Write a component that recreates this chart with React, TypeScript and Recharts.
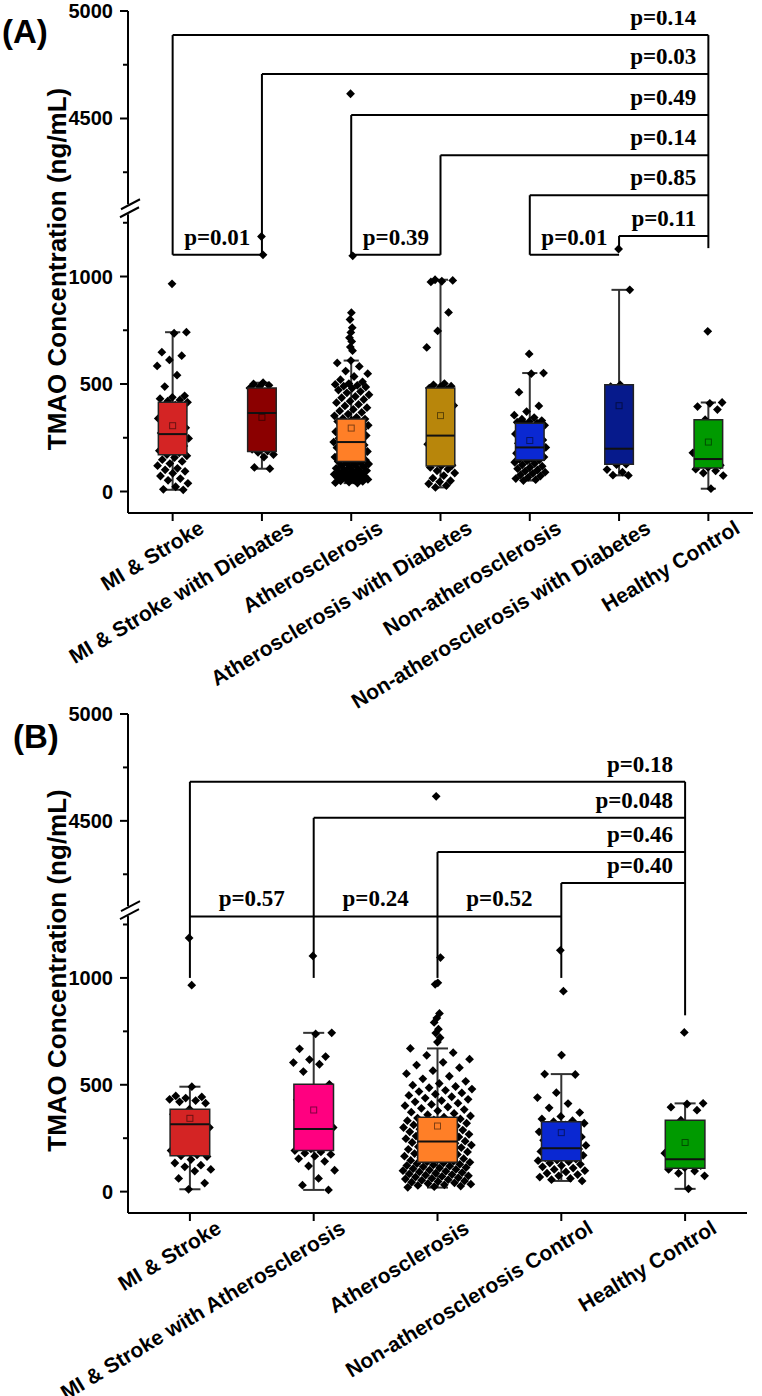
import React from 'react';
import { ComposedChart, XAxis, YAxis, Scatter, ReferenceArea, ReferenceLine, ReferenceDot, Label } from 'recharts';

// ---------- broken axis transform ----------
const LOWER_MAX = 1300;
const UPPER_MIN = 4100;
const SHIFT = 2765;
const toT = (v: number) => (v >= UPPER_MIN ? v - SHIFT : v);
const BREAK_T = (LOWER_MAX + toT(UPPER_MIN)) / 2;
const yMajor = [0, 500, 1000, 4500, 5000];
const yMinor = [250, 750, 1250, 4250, 4750];
const fromT = (t: number) => (t > LOWER_MAX ? t + SHIFT : t);

// ---------- Panel A data ----------
const catsA = ['MI & Stroke', 'MI & Stroke with Diebates', 'Atherosclerosis', 'Atherosclerosis with Diabetes', 'Non-atherosclerosis', 'Non-atherosclerosis with Diabetes', 'Healthy Control'];
const q1A = [171, 186, 140, 119, 147, 127, 109];
const medA = [267, 365, 230, 260, 205, 199, 151];
const q3A = [415, 481, 337, 481, 318, 496, 334];
const meanA = [306, 345, 295, 353, 237, 399, 230];
const wLoA = [8, 106, 39, 19, 51, 75, 13];
const wHiA = [741, 506, 609, 985, 551, 938, 414];

const msA = [966, 741, 736, 648, 632, 612, 584, 541, 488, 445, 438, 432, 426, 420, 415, 402, 388, 372, 355, 340, 322, 308, 296, 284, 272, 266, 258, 247, 236, 224, 212, 200, 190, 180, 172, 166, 158, 148, 140, 130, 120, 108, 101, 94, 85, 72, 60, 52, 38, 22, 10, 8];
const msdA = [1186, 1101, 506, 500, 494, 488, 481, 430, 365, 300, 248, 196, 188, 182, 172, 160, 112, 106];
const athA = [4615, 1096, 832, 800, 762, 740, 715, 698, 672, 655, 609, 598, 582, 560, 548, 535, 520, 510, 502, 498, 494, 490, 486, 480, 472, 465, 459, 450, 442, 436, 428, 420, 413, 405, 398, 390, 382, 375, 368, 360, 352, 345, 340, 337, 332, 326, 320, 314, 308, 302, 296, 290, 284, 278, 272, 266, 260, 254, 248, 242, 236, 230, 226, 222, 216, 210, 204, 198, 192, 186, 180, 175, 170, 165, 160, 155, 150, 146, 142, 140, 136, 132, 128, 124, 120, 116, 112, 108, 104, 100, 97, 94, 90, 87, 84, 80, 77, 74, 71, 68, 65, 62, 59, 56, 53, 50, 47, 44, 41, 39];
const athdA = [985, 982, 978, 975, 833, 747, 670, 502, 496, 490, 486, 481, 475, 440, 400, 355, 310, 262, 258, 220, 180, 140, 122, 119, 112, 104, 96, 86, 74, 62, 50, 45, 36, 28, 19];
const naA = [640, 551, 548, 462, 398, 372, 355, 344, 336, 330, 326, 322, 318, 314, 308, 300, 292, 284, 276, 268, 260, 250, 240, 232, 224, 216, 210, 205, 200, 196, 190, 184, 178, 172, 166, 160, 154, 150, 147, 142, 136, 130, 124, 118, 112, 106, 100, 95, 90, 84, 78, 72, 66, 60, 55, 51];
const nadA = [1128, 938, 496, 488, 127, 125, 102, 90, 76, 75];
const hcA = [745, 414, 410, 395, 381, 334, 180, 151, 132, 122, 112, 104, 96, 86, 74, 13];

const bracketFromA = [0, 1, 2, 3, 4, 5];
const bracketToA = [6, 6, 6, 6, 6, 6];
const bracketHA = [4888, 4707, 4516, 4329, 4143, 1189];
const bracketPA = ['p=0.14', 'p=0.03', 'p=0.49', 'p=0.14', 'p=0.85', 'p=0.11'];
const legBottomA = [1101, 1101, 1101, 1101, 1101, 1128];
const rightLegBottomA = 1132;
const pairFromA = [0, 2, 4];
const pairToA = [1, 3, 5];
const pairHA = [1101, 1101, 1101];
const pairPA = ['p=0.01', 'p=0.39', 'p=0.01'];

// ---------- Panel B data ----------
const catsB = ['MI & Stroke', 'MI & Stroke with Atherosclerosis', 'Atherosclerosis', 'Non-atherosclerosis Control', 'Healthy Control'];
const q1B = [168, 192, 137, 145, 109];
const medB = [315, 293, 234, 203, 151];
const q3B = [386, 502, 348, 327, 334];
const meanB = [343, 382, 307, 276, 230];
const wLoB = [11, 8, 19, 50, 13];
const wHiB = [491, 743, 670, 550, 413];

const msB = [1187, 966, 491, 448, 443, 438, 432, 426, 420, 414, 386, 362, 340, 318, 300, 282, 262, 240, 214, 192, 172, 168, 164, 150, 134, 124, 116, 104, 96, 62, 40, 11];
const msaB = [1103, 743, 738, 668, 632, 618, 604, 596, 562, 502, 468, 430, 382, 340, 300, 290, 252, 228, 200, 192, 186, 180, 174, 166, 154, 142, 120, 100, 62, 30, 8];
const athB = [4615, 1095, 977, 970, 834, 812, 792, 760, 742, 720, 700, 670, 650, 638, 620, 605, 592, 580, 566, 552, 540, 528, 516, 506, 498, 492, 486, 480, 474, 468, 462, 456, 450, 444, 438, 432, 426, 420, 414, 408, 402, 396, 390, 384, 378, 372, 366, 360, 354, 348, 344, 340, 336, 332, 328, 324, 320, 316, 312, 308, 304, 300, 296, 292, 288, 284, 280, 276, 272, 268, 264, 260, 256, 252, 248, 244, 240, 236, 234, 230, 226, 222, 218, 214, 210, 206, 202, 198, 194, 190, 186, 182, 178, 174, 170, 166, 162, 158, 154, 150, 146, 142, 139, 137, 134, 131, 128, 125, 122, 119, 116, 113, 110, 107, 104, 101, 98, 95, 92, 89, 86, 83, 80, 77, 74, 71, 68, 65, 62, 59, 56, 53, 50, 47, 44, 41, 38, 35, 32, 29, 26, 23, 20];
const nacB = [1129, 938, 639, 550, 548, 463, 440, 412, 392, 370, 352, 340, 332, 327, 320, 312, 304, 296, 288, 280, 272, 264, 256, 248, 240, 232, 224, 216, 210, 204, 200, 194, 188, 182, 176, 170, 164, 158, 152, 148, 145, 140, 134, 128, 122, 116, 110, 104, 98, 92, 86, 80, 74, 68, 62, 56, 50];
const hcB = [745, 413, 410, 395, 381, 334, 180, 151, 132, 122, 112, 104, 96, 86, 74, 13];

const bracketFromB = [0, 1, 2, 3];
const bracketToB = [4, 4, 4, 4];
const bracketHB = [4683, 4514, 4354, 4209];
const bracketPB = ['p=0.18', 'p=0.048', 'p=0.46', 'p=0.40'];
const legBottomB = [1000, 1000, 1000, 1000];
const rightLegBottomB = 825;
const pairFromB = [0, 1, 2];
const pairToB = [1, 2, 3];
const pairHB = [1288, 1288, 1288];
const pairPB = ['p=0.57', 'p=0.24', 'p=0.52'];

// ---------- styles ----------
const colorsA = ['#D42424', '#8B0000', '#FF7F27', '#B8860B', '#0A28D2', '#061A8C', '#009A00'];
const colorsB = ['#D42424', '#FF0080', '#FF7F27', '#0A28D2', '#009A00'];
const SANS = "'Liberation Sans', Arial, sans-serif";
const SERIF = "'Liberation Serif', 'Times New Roman', serif";

const jit = (k: number) => ((k * 0.6180339887 + 0.31) % 1) * 2 - 1;

const Diamond = (p: any) => {
  const { cx, cy } = p;
  if (cx == null || cy == null) return null;
  const r = 4.4;
  return <path d={`M${cx},${cy - r}L${cx + r},${cy}L${cx},${cy + r}L${cx - r},${cy}Z`} fill="#000" />;
};

const MeanSq = (p: any) => {
  const { cx, cy } = p;
  if (cx == null || cy == null) return <g />;
  return <rect x={cx - 3} y={cy - 3} width={6} height={6} fill="none" stroke="rgba(0,0,0,0.5)" strokeWidth={1} />;
};

const PLabel = (p: any) => {
  const { cx, cy, payload } = p;
  if (cx == null || cy == null) return null;
  const end = payload.anchor === 'end';
  return (
    <text x={end ? cx - 12 : cx} y={cy - 10} textAnchor={end ? 'end' : 'middle'} fontFamily={SERIF} fontWeight="bold" fontSize={23} fill="#000">
      {payload.text}
    </text>
  );
};

const YTick = (p: any) => {
  const { x, y, payload } = p;
  const t = payload.value;
  if (Math.abs(t - BREAK_T) < 0.01) {
    return (
      <g>
        <rect x={x - 3} y={y - 4} width={6} height={10} fill="#fff" />
        <line x1={x - 7} y1={y + 1} x2={x + 12} y2={y - 9} stroke="#000" strokeWidth={2} />
        <line x1={x - 8} y1={y + 9} x2={x + 11} y2={y - 1} stroke="#000" strokeWidth={2} />
      </g>
    );
  }
  const v = Math.round(fromT(t));
  const major = yMajor.includes(v);
  return (
    <g>
      <line x1={x - (major ? 8 : 5)} y1={y} x2={x} y2={y} stroke="#000" strokeWidth={2} />
      {major && (
        <text x={x - 15} y={y} textAnchor="end" dominantBaseline="central" fontFamily={SANS} fontWeight="bold" fontSize={20} fill="#000">
          {v}
        </text>
      )}
    </g>
  );
};

const makeXTick = (names: string[]) => (p: any) => {
  const { x, y, payload } = p;
  const tx = x + 33;
  const ty = y + 19;
  return (
    <g>
      <line x1={x} y1={y} x2={x} y2={y + 8} stroke="#000" strokeWidth={2} />
      <text x={tx} y={ty} transform={`rotate(-31 ${tx} ${ty})`} textAnchor="end" fontFamily={SANS} fontWeight="bold" fontSize={21} fill="#000">
        {names[payload.value]}
      </text>
    </g>
  );
};

const YLabelContent = (p: any) => {
  const vb = p.viewBox || { x: 0, y: 0, width: 128, height: 500 };
  const cx = vb.x + 57;
  const cy = vb.y + vb.height / 2 + 7;
  return (
    <text x={cx} y={cy} transform={`rotate(-90 ${cx} ${cy})`} textAnchor="middle" dominantBaseline="central" fontFamily={SANS} fontWeight="bold" fontSize={26} fill="#000">
      TMAO Concentration (ng/mL)
    </text>
  );
};

type PanelProps = {
  cats: string[]; q1: number[]; med: number[]; q3: number[]; mean: number[]; wLo: number[]; wHi: number[];
  points: number[][]; colors: string[];
  bFrom: number[]; bTo: number[]; bH: number[]; bP: string[]; legBottom: number[]; rightLegBottom: number;
  pFrom: number[]; pTo: number[]; pH: number[]; pP: string[];
  height: number; margin: any; xHeight: number; spread: number[];
};

const Panel = (props: PanelProps) => {
  const { cats, q1, med, q3, mean, wLo, wHi, points, colors } = props;
  const n = cats.length;
  const BW = 0.32;
  const CAP = 0.17;
  const scatterData: any[] = [];
  points.forEach((arr, i) => {
    arr.forEach((v, k) => {
      const out = v > wHi[i] || v < wLo[i];
      scatterData.push({ x: i + (out ? 0.1 : 1) * props.spread[i] * jit(k), y: toT(v) });
    });
  });
  const labelData: any[] = [];
  props.bFrom.forEach((f, j) => labelData.push({ x: props.bTo[j], y: toT(props.bH[j]), text: props.bP[j], anchor: 'end' }));
  props.pFrom.forEach((f, j) => labelData.push({ x: (f + props.pTo[j]) / 2, y: toT(props.pH[j]), text: props.pP[j], anchor: 'middle' }));

  const seg = (key: string, x1: number, y1: number, x2: number, y2: number, stroke = '#000', w = 2, z = 300, front = false) => (
    <ReferenceLine key={key} segment={[{ x: x1, y: toT(y1) }, { x: x2, y: toT(y2) }]} stroke={stroke} strokeWidth={w} ifOverflow="visible" zIndex={z} isFront={front} />
  );

  const whiskers: any[] = [];
  const medians: any[] = [];
  cats.forEach((_, i) => {
    whiskers.push(seg(`wh${i}`, i, q3[i], i, wHi[i], '#333', 2, 50));
    whiskers.push(seg(`wl${i}`, i, wLo[i], i, q1[i], '#333', 2, 50));
    whiskers.push(seg(`ch${i}`, i - CAP / 2, wHi[i], i + CAP / 2, wHi[i], '#333', 2, 50));
    whiskers.push(seg(`cl${i}`, i - CAP / 2, wLo[i], i + CAP / 2, wLo[i], '#333', 2, 50));
    medians.push(seg(`md${i}`, i - BW / 2, med[i], i + BW / 2, med[i], '#111', 2, 1500, true));
  });
  const brackets: any[] = [];
  props.bFrom.forEach((f, j) => {
    brackets.push(seg(`bh${j}`, f, props.bH[j], props.bTo[j], props.bH[j]));
    brackets.push(seg(`bl${j}`, f, props.bH[j], f, props.legBottom[j]));
  });
  const topH = Math.max(...props.bH);
  const rightCat = props.bTo[0];
  brackets.push(seg('rleg', rightCat, topH, rightCat, props.rightLegBottom));
  props.pFrom.forEach((f, j) => {
    brackets.push(seg(`ph${j}`, f, props.pH[j], props.pTo[j], props.pH[j]));
  });

  const ticksY = [...yMajor, ...yMinor].map(toT).concat([BREAK_T]).sort((a, b) => a - b);

  return (
    <ComposedChart width={762} height={props.height} margin={props.margin}>
      <XAxis
        type="number"
        dataKey="x"
        domain={[-0.5, n - 0.5]}
        ticks={cats.map((_, i) => i)}
        interval={0}
        allowDataOverflow
        tickLine={false}
        tickSize={0}
        tickMargin={0}
        axisLine={{ stroke: '#000', strokeWidth: 2 }}
        height={props.xHeight}
        tick={makeXTick(cats)}
      />
      <YAxis
        type="number"
        dataKey="y"
        domain={[-100, toT(5000)]}
        ticks={ticksY}
        interval={0}
        allowDataOverflow
        width={128}
        tickLine={false}
        tickSize={0}
        tickMargin={0}
        axisLine={{ stroke: '#000', strokeWidth: 2 }}
        tick={YTick}
      >
        <Label content={YLabelContent} />
      </YAxis>
      {whiskers}
      {brackets}
      <Scatter data={scatterData} shape={Diamond} isAnimationActive={false} zIndex={60} />
      {cats.map((_, i) => (
        <ReferenceArea
          key={`box${i}`}
          x1={i - BW / 2}
          x2={i + BW / 2}
          y1={toT(q1[i])}
          y2={toT(q3[i])}
          fill={colors[i]}
          fillOpacity={1}
          stroke="#222"
          strokeWidth={1.5}
          ifOverflow="visible"
          isFront
          zIndex={1400}
        />
      ))}
      {medians}
      {mean.map((m, i) => (
        <ReferenceDot key={`mean${i}`} x={i} y={toT(m)} r={3} shape={MeanSq} ifOverflow="visible" isFront zIndex={1600} />
      ))}
      <Scatter data={labelData} shape={PLabel} isAnimationActive={false} zIndex={1700} />
    </ComposedChart>
  );
};

export default function App() {
  return (
    <div style={{ position: 'absolute', left: 0, top: 0, width: 762, height: 1396, background: '#fff', overflow: 'hidden' }}>
      <div style={{ position: 'absolute', left: 0, top: 0 }}>
        <Panel
          cats={catsA} q1={q1A} med={medA} q3={q3A} mean={meanA} wLo={wLoA} wHi={wHiA}
          points={[msA, msdA, athA, athdA, naA, nadA, hcA]} colors={colorsA}
          bFrom={bracketFromA} bTo={bracketToA} bH={bracketHA} bP={bracketPA} legBottom={legBottomA} rightLegBottom={rightLegBottomA}
          pFrom={pairFromA} pTo={pairToA} pH={pairHA} pP={pairPA}
          height={720} margin={{ top: 11, right: 9, left: 0, bottom: 0 }} xHeight={207}
          spread={[0.18, 0.14, 0.2, 0.16, 0.18, 0.14, 0.18]}
        />
      </div>
      <div style={{ position: 'absolute', left: 0, top: 700 }}>
        <Panel
          cats={catsB} q1={q1B} med={medB} q3={q3B} mean={meanB} wLo={wLoB} wHi={wHiB}
          points={[msB, msaB, athB, nacB, hcB]} colors={colorsB}
          bFrom={bracketFromB} bTo={bracketToB} bH={bracketHB} bP={bracketPB} legBottom={legBottomB} rightLegBottom={rightLegBottomB}
          pFrom={pairFromB} pTo={pairToB} pH={pairHB} pP={pairPB}
          height={696} margin={{ top: 14, right: 15, left: 0, bottom: 0 }} xHeight={183}
          spread={[0.17, 0.17, 0.28, 0.2, 0.17]}
        />
      </div>
      <div style={{ position: 'absolute', left: 2, top: 15, fontFamily: SANS, fontWeight: 'bold', fontSize: 33, lineHeight: 1 }}>(A)</div>
      <div style={{ position: 'absolute', left: 13, top: 720, fontFamily: SANS, fontWeight: 'bold', fontSize: 33, lineHeight: 1 }}>(B)</div>
    </div>
  );
}
